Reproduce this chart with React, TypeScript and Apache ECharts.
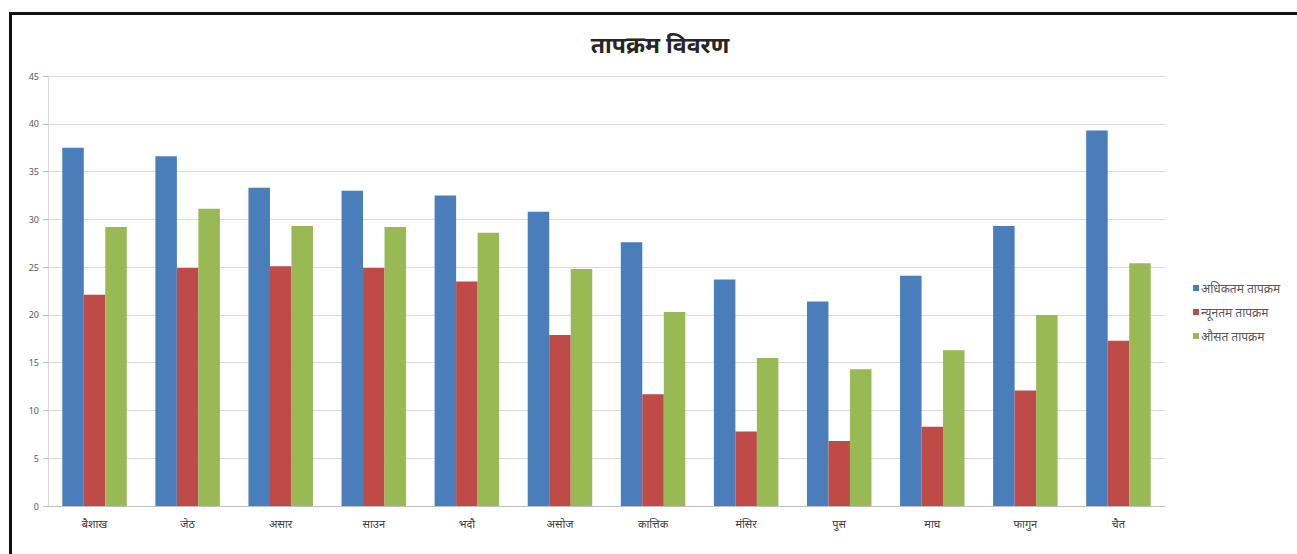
import React, { useEffect, useRef } from "react";
import * as echarts from "echarts";

const months = ["बैशाख", "जेठ", "असार", "साउन", "भदौ", "असोज", "कात्तिक", "मंसिर", "पुस", "माघ", "फागुन", "चैत"];
const seriesNames = ["अधिकतम तापक्रम", "न्यूनतम तापक्रम", "औसत तापक्रम"];
const maxTemp = [37.5, 36.6, 33.3, 33.0, 32.5, 30.8, 27.6, 23.7, 21.4, 24.1, 29.3, 39.3];
const minTemp = [22.1, 24.9, 25.1, 24.9, 23.5, 17.9, 11.7, 7.8, 6.8, 8.3, 12.1, 17.3];
const avgTemp = [29.2, 31.1, 29.3, 29.2, 28.6, 24.8, 20.3, 15.5, 14.3, 16.3, 20.0, 25.4];
const colors = ["#4a7ebb", "#be4b48", "#98b954"];
const FONT = "'Noto Sans', 'Noto Sans CJK SC', sans-serif";

export default function App() {
  const ref = useRef<HTMLDivElement>(null);
  useEffect(() => {
    if (!ref.current) return;
    const chart = echarts.init(ref.current, null, { renderer: "svg" });
    const data = [maxTemp, minTemp, avgTemp];
    chart.setOption({
      animation: false,
      backgroundColor: "#ffffff",
      title: {
        text: "तापक्रम विवरण",
        left: 655,
        top: 27,
        textAlign: "center",
        textStyle: { fontFamily: FONT, fontSize: 23, fontWeight: "bold", color: "#262626" },
      },
      legend: {
        orient: "vertical",
        left: 1188,
        top: 277,
        itemWidth: 6,
        itemHeight: 6,
        itemGap: 12,
        icon: "rect",
        textStyle: { fontFamily: FONT, fontSize: 12, color: "#595959", padding: [0, 0, 0, -3] },
        data: seriesNames,
      },
      grid: { left: 48, right: 132, top: 76, bottom: 48, containLabel: false },
      xAxis: {
        type: "category",
        data: months,
        axisLine: { lineStyle: { color: "#bfbfbf" } },
        axisTick: { show: false },
        axisLabel: { fontFamily: FONT, fontSize: 11, color: "#404040", margin: 12 },
      },
      yAxis: {
        type: "value",
        min: 0,
        max: 45,
        interval: 5,
        axisLine: { show: true, lineStyle: { color: "#d9d9d9" } },
        axisTick: { show: true, length: 5, lineStyle: { color: "#bfbfbf" } },
        splitLine: { lineStyle: { color: "#d9d9d9" } },
        axisLabel: { fontFamily: FONT, fontSize: 9, color: "#595959", margin: 9 },
      },
      series: seriesNames.map((name, i) => ({
        name,
        type: "bar",
        data: data[i],
        barWidth: 21.5,
        barGap: "0%",
        itemStyle: { color: colors[i] },
      })),
      graphic: [
        {
          type: "rect",
          shape: { x: 10.5, y: 13.5, width: 1300, height: 560 },
          style: { fill: "none", stroke: "#111111", lineWidth: 3 },
          silent: true,
        },
      ],
    });
    return () => chart.dispose();
  }, []);
  return (
    <div
      ref={ref}
      style={{ position: "fixed", left: 0, top: 0, width: 1297, height: 554 }}
    />
  );
}
